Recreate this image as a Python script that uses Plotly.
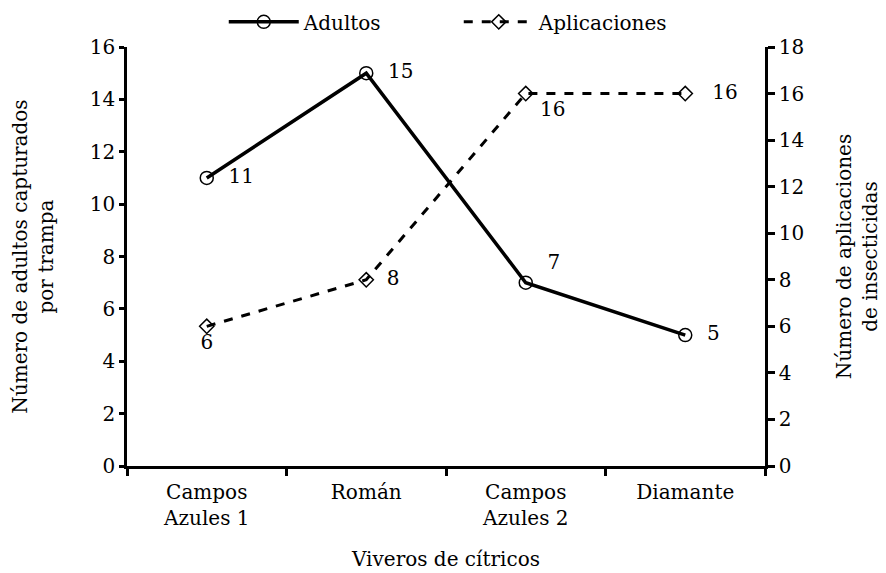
import plotly.graph_objects as go

categories = ["Campos<br>Azules 1", "Román", "Campos<br>Azules 2", "Diamante"]
adultos = [11, 15, 7, 5]
aplicaciones = [6, 8, 16, 16]
left_ticks = [0, 2, 4, 6, 8, 10, 12, 14, 16]
right_ticks = [0, 2, 4, 6, 8, 10, 12, 14, 16, 18]

FONT = "DejaVu Serif"
FS = 20

fig = go.Figure()
fig.add_trace(go.Scatter(
    x=categories, y=adultos, name="Adultos",
    mode="lines+markers+text",
    line=dict(color="black", width=3.5),
    marker=dict(symbol="circle-open", size=13, color="black", line=dict(width=1.5)),
    text=["  " + str(v) for v in adultos],
    textposition=["middle right", "middle right", "top right", "middle right"],
    textfont=dict(family=FONT, size=FS, color="black"),
    yaxis="y", cliponaxis=False,
))
fig.add_trace(go.Scatter(
    x=categories, y=aplicaciones, name="Aplicaciones",
    mode="lines+markers+text",
    line=dict(color="black", width=3, dash="dash"),
    marker=dict(symbol="diamond-open", size=11, color="black", line=dict(width=1.5)),
    text=[str(aplicaciones[0]), "  " + str(aplicaciones[1]), " " + str(aplicaciones[2]), "   " + str(aplicaciones[3])],
    textposition=["bottom center", "middle right", "bottom right", "middle right"],
    textfont=dict(family=FONT, size=FS, color="black"),
    yaxis="y2", cliponaxis=False,
))

fig.update_layout(
    width=878, height=565,
    margin=dict(l=119, r=121, t=39, b=107, autoexpand=False),
    paper_bgcolor="white", plot_bgcolor="white",
    font=dict(family=FONT, size=FS, color="black"),
    showlegend=True,
    legend=dict(orientation="h", x=0.52, xanchor="center", y=1.06, yanchor="middle",
                font=dict(family=FONT, size=FS), itemwidth=70, entrywidth=150,
                bgcolor="rgba(0,0,0,0)"),
    xaxis=dict(
        type="category", range=[-0.5, 3.5], tickson="boundaries",
        showline=True, linecolor="black", linewidth=2.5,
        ticks="outside", ticklen=7, tickwidth=2.5, tickcolor="black",
        ticklabelstandoff=6,
        showgrid=False, zeroline=False,
        title=dict(text="Viveros de cítricos", font=dict(family=FONT, size=FS), standoff=24),
        tickfont=dict(family=FONT, size=FS),
    ),
    yaxis=dict(
        range=[0, 16], tickvals=left_ticks,
        showline=True, linecolor="black", linewidth=2.5,
        ticks="outside", ticklen=5, tickwidth=2.5, tickcolor="black",
        showgrid=False, zeroline=False,
        title=dict(text="Número de adultos capturados<br>por trampa", font=dict(family=FONT, size=FS), standoff=34),
        tickfont=dict(family=FONT, size=FS),
    ),
    yaxis2=dict(
        range=[0, 18], tickvals=right_ticks, overlaying="y", side="right",
        showline=True, linecolor="black", linewidth=2.5,
        ticks="outside", ticklen=7, tickwidth=2.5, tickcolor="black",
        showgrid=False, zeroline=False,
        title=dict(text="Número de aplicaciones<br>de insecticidas", font=dict(family=FONT, size=FS), standoff=34),
        tickfont=dict(family=FONT, size=FS),
    ),
)

fig.write_html("out.html")
